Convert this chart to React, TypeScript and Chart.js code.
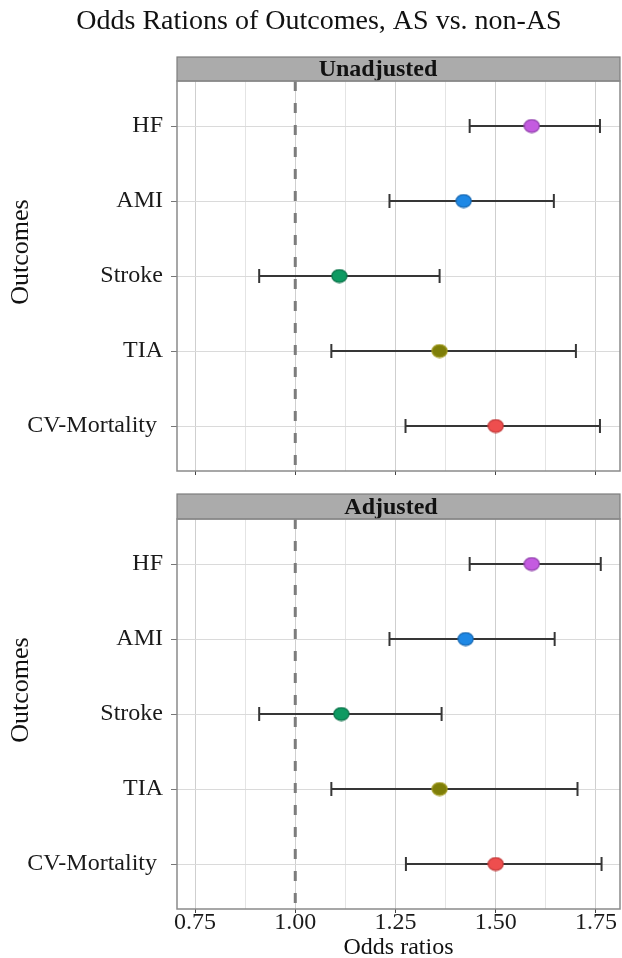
import React, { useEffect, useRef } from 'react';
import { Chart, registerables } from 'chart.js';

Chart.register(...registerables);

const TITLE = 'Odds Rations of Outcomes, AS vs. non-AS';
const PANELS = ['Unadjusted', 'Adjusted'];
const Y_TITLE = 'Outcomes';
const X_TITLE = 'Odds ratios';
const OUTCOMES = ['HF', 'AMI', 'Stroke', 'TIA', 'CV-Mortality '];

const UNADJ_OR = [1.59, 1.42, 1.11, 1.36, 1.5];
const UNADJ_LOW = [1.435, 1.235, 0.91, 1.09, 1.275];
const UNADJ_HIGH = [1.76, 1.645, 1.36, 1.7, 1.76];

const ADJ_OR = [1.59, 1.425, 1.115, 1.36, 1.5];
const ADJ_LOW = [1.435, 1.235, 0.91, 1.09, 1.276];
const ADJ_HIGH = [1.762, 1.647, 1.365, 1.704, 1.764];

const X_GRID = [0.75, 0.875, 1, 1.125, 1.25, 1.375, 1.5, 1.625, 1.75];
const X_MAJOR = [0.75, 1, 1.25, 1.5, 1.75];
const X_LABELS = ['0.75', '1.00', '1.25', '1.50', '1.75'];
const X_MIN = 0.705;
const X_MAX = 1.81;
const REF_OR = 1;

const FILLS = ['#C45BE0', '#1E88E5', '#0E9A62', '#7E7E08', '#EE4E4E'];
const EDGES = ['#9140AC', '#1666B0', '#0A7148', '#A09A20', '#C23A3A'];

const SERIF = '"Liberation Serif", "Times New Roman", serif';
const W = 622;

function ellipse(fill: string, edge: string): HTMLCanvasElement {
  const c = document.createElement('canvas');
  c.width = 17;
  c.height = 15;
  const g = c.getContext('2d')!;
  g.beginPath();
  g.ellipse(8.5, 7.5, 7.6, 6.4, 0, 0, Math.PI * 2);
  g.fillStyle = fill;
  g.fill();
  g.lineWidth = 1.2;
  g.strokeStyle = edge;
  g.stroke();
  return c;
}

function isMajor(v: number) {
  return X_MAJOR.some((m) => Math.abs(m - v) < 1e-9);
}
function labelFor(v: number) {
  const i = X_MAJOR.findIndex((m) => Math.abs(m - v) < 1e-9);
  return i >= 0 ? X_LABELS[i] : '';
}

function zeroPad(s: any) {
  s.paddingLeft = 0;
  s.paddingRight = 0;
  s.paddingTop = 0;
  s.paddingBottom = 0;
}

interface Cfg {
  panel: string;
  or: number[];
  low: number[];
  high: number[];
  height: number;
  padTop: number;
  plotBottom: number;
  stripTop: number;
  stripTextX: number;
  yTitleY: number;
  showXLabels: boolean;
  showTitle: boolean;
}

function buildChart(canvas: HTMLCanvasElement, cfg: Cfg) {
  const ys = OUTCOMES.map((_, i) => i + 1);
  const datasets: any[] = [];
  datasets.push({
    data: cfg.or.map((v, i) => ({ x: v, y: ys[i] })),
    pointStyle: OUTCOMES.map((_, i) => ellipse(FILLS[i], EDGES[i])),
    pointRadius: 8,
    order: 0,
  });
  OUTCOMES.forEach((_, i) => {
    datasets.push({
      data: [
        { x: cfg.low[i], y: ys[i] },
        { x: cfg.high[i], y: ys[i] },
      ],
      showLine: true,
      borderColor: '#363636',
      borderWidth: 2,
      pointStyle: 'line',
      pointRotation: 90,
      pointRadius: 7,
      pointBorderWidth: 2,
      pointBorderColor: '#363636',
      order: 1,
    });
  });
  datasets.push({
    data: [
      { x: REF_OR, y: 0.4 },
      { x: REF_OR, y: 5.6 },
    ],
    showLine: true,
    borderColor: '#7c7c7c',
    borderWidth: 3,
    borderDash: [10, 12],
    pointRadius: 0,
    order: 2,
  });

  const decor = {
    id: 'decor',
    afterDraw(chart: any) {
      const { ctx, chartArea: a } = chart;
      ctx.save();
      // strip
      ctx.fillStyle = '#ababab';
      ctx.fillRect(a.left, cfg.stripTop, a.right - a.left, a.top - cfg.stripTop);
      ctx.strokeStyle = '#7e7e7e';
      ctx.lineWidth = 1.2;
      ctx.strokeRect(a.left, cfg.stripTop, a.right - a.left, a.top - cfg.stripTop);
      ctx.fillStyle = '#111';
      ctx.font = `bold 24px ${SERIF}`;
      ctx.textAlign = 'center';
      ctx.textBaseline = 'middle';
      ctx.fillText(cfg.panel, cfg.stripTextX, (cfg.stripTop + a.top) / 2 + 1);
      // panel border
      ctx.strokeStyle = '#8a8a8a';
      ctx.lineWidth = 1.5;
      ctx.strokeRect(a.left, a.top, a.right - a.left, a.bottom - a.top);
      // y title
      ctx.save();
      ctx.translate(21, cfg.yTitleY);
      ctx.rotate(-Math.PI / 2);
      ctx.font = `26px ${SERIF}`;
      ctx.fillStyle = '#111';
      ctx.textAlign = 'center';
      ctx.textBaseline = 'middle';
      ctx.fillText(Y_TITLE, 0, 0);
      ctx.restore();
      if (cfg.showTitle) {
        ctx.font = `28px ${SERIF}`;
        ctx.fillStyle = '#111';
        ctx.textAlign = 'center';
        ctx.textBaseline = 'alphabetic';
        ctx.fillText(TITLE, 319, 29);
      }
      if (cfg.showXLabels) {
        ctx.font = `24px ${SERIF}`;
        ctx.fillStyle = '#111';
        ctx.textAlign = 'center';
        ctx.textBaseline = 'alphabetic';
        ctx.fillText(X_TITLE, (a.left + a.right) / 2, cfg.height - 4);
      }
      ctx.restore();
    },
  };

  return new Chart(canvas, {
    type: 'scatter',
    data: { datasets },
    plugins: [decor],
    options: {
      responsive: false,
      animation: false,
      events: [],
      layout: { autoPadding: false, padding: { top: cfg.padTop, right: 2, left: 0, bottom: 0 } },
      plugins: { legend: { display: false }, tooltip: { enabled: false }, title: { display: false } },
      scales: {
        x: {
          type: 'linear',
          min: X_MIN,
          max: X_MAX,
          afterBuildTicks: (s: any) => {
            s.ticks = X_GRID.map((v) => ({ value: v }));
          },
          afterFit: (s: any) => {
            s.height = cfg.height - cfg.plotBottom;
            zeroPad(s);
          },
          ticks: {
            autoSkip: false,
            maxRotation: 0,
            padding: -5,
            color: '#1a1a1a',
            font: { family: SERIF, size: 24 },
            callback: (v: any) => (cfg.showXLabels ? labelFor(Number(v)) : ''),
          },
          grid: {
            color: (c: any) => (c.tick && isMajor(c.tick.value) ? '#cfcfcf' : '#e4e4e4'),
            lineWidth: 1,
            tickLength: 4,
            tickColor: (c: any) => (c.tick && isMajor(c.tick.value) ? '#444' : 'rgba(0,0,0,0)'),
          },
          border: { display: false },
        },
        y: {
          type: 'linear',
          reverse: true,
          min: 0.4,
          max: 5.6,
          afterBuildTicks: (s: any) => {
            s.ticks = ys.map((v) => ({ value: v }));
          },
          afterFit: (s: any) => {
            s.width = 177;
            zeroPad(s);
          },
          ticks: {
            autoSkip: false,
            padding: 8,
            color: '#1a1a1a',
            font: { family: SERIF, size: 24 },
            callback: (v: any) => OUTCOMES[Math.round(Number(v)) - 1] ?? '',
          },
          grid: { color: '#dadada', lineWidth: 1, tickLength: 6, tickColor: '#777' },
          border: { display: false },
        },
      },
    } as any,
  });
}

export default function App() {
  const r1 = useRef<HTMLCanvasElement>(null);
  const r2 = useRef<HTMLCanvasElement>(null);

  useEffect(() => {
    const c1 = buildChart(r1.current!, {
      panel: PANELS[0],
      or: UNADJ_OR,
      low: UNADJ_LOW,
      high: UNADJ_HIGH,
      height: 480,
      padTop: 81,
      plotBottom: 471,
      stripTop: 57,
      stripTextX: 378,
      yTitleY: 252,
      showXLabels: false,
      showTitle: true,
    });
    const c2 = buildChart(r2.current!, {
      panel: PANELS[1],
      or: ADJ_OR,
      low: ADJ_LOW,
      high: ADJ_HIGH,
      height: 478,
      padTop: 39,
      plotBottom: 429,
      stripTop: 14,
      stripTextX: 391,
      yTitleY: 210,
      showXLabels: true,
      showTitle: false,
    });
    return () => {
      c1.destroy();
      c2.destroy();
    };
  }, []);

  return (
    <div style={{ position: 'absolute', left: 0, top: 0, width: W, height: 958, background: '#fff' }}>
      <canvas ref={r1} width={W} height={480} style={{ position: 'absolute', left: 0, top: 0, display: 'block' }} />
      <canvas ref={r2} width={W} height={478} style={{ position: 'absolute', left: 0, top: 480, display: 'block' }} />
    </div>
  );
}
